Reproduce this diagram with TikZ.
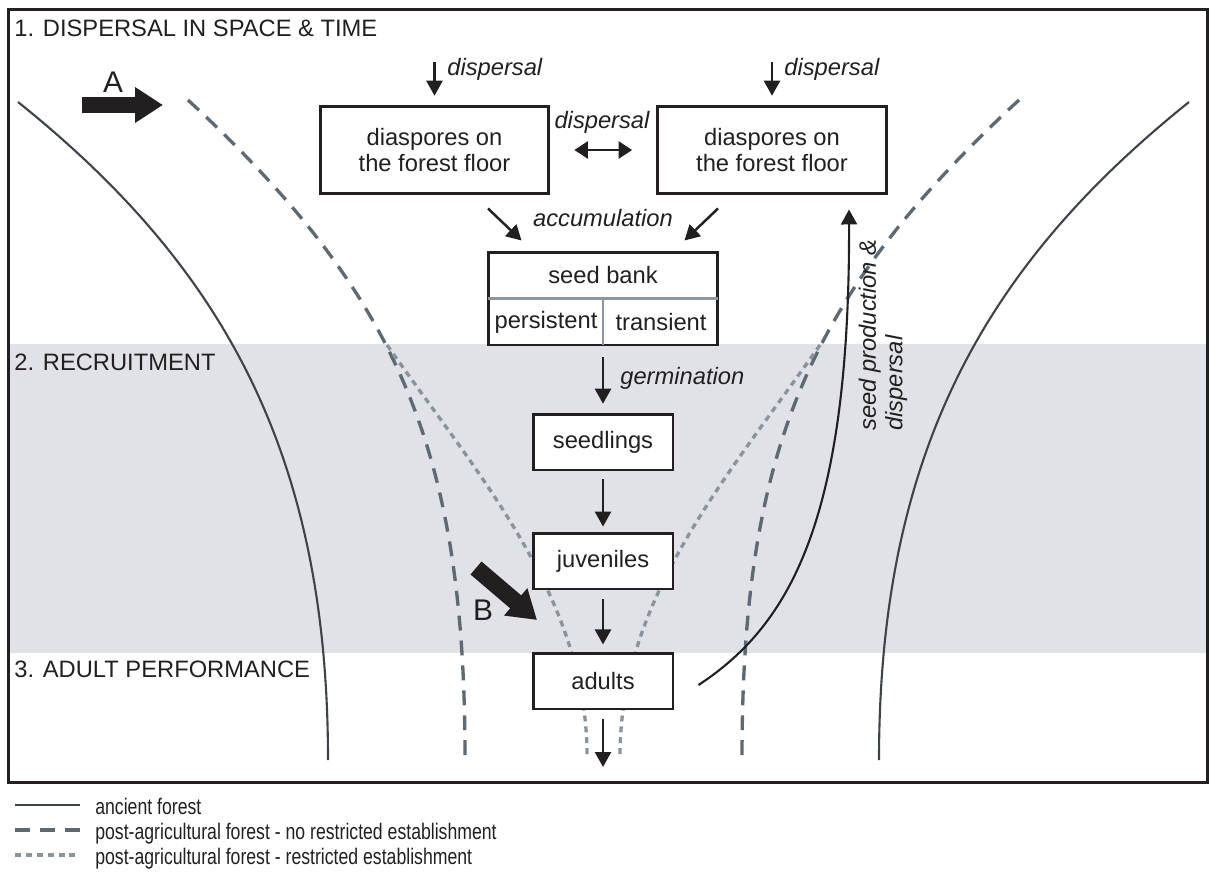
\documentclass[tikz,border=0pt]{standalone}
\usepackage{fontspec}
\setmainfont{Liberation Sans}
\newfontfamily\legendfont[FakeStretch=0.785]{Liberation Sans}
\usetikzlibrary{arrows.meta, calc}

\definecolor{ink}{HTML}{231F20}
\definecolor{band}{HTML}{E1E2E8}
\definecolor{ancient}{HTML}{3D4349}
\definecolor{postag}{HTML}{5E6A73}
\definecolor{restr}{HTML}{8A949E}
\definecolor{divider}{HTML}{8D97A1}

\newcommand{\boxfont}{\fontsize{13.5}{15}\selectfont}

\tikzset{
  stagebox/.style={draw=ink, line width=1.7pt, fill=white, text=ink, font=\boxfont,
    align=center, inner sep=0pt},
  smallbox/.style={stagebox, minimum width=2.8cm, minimum height=1.12cm},
  floorbox/.style={stagebox, minimum width=4.58cm, minimum height=1.76cm},
  flow/.style={draw=ink, line width=1.4pt, -{Triangle[length=0.3cm,width=0.32cm]}},
  flowboth/.style={draw=ink, line width=1.4pt,
    {Triangle[length=0.27cm,width=0.34cm]}-{Triangle[length=0.27cm,width=0.34cm]}},
  fat/.style={draw=ink, line width=0.34cm, -{Triangle[length=0.56cm,width=0.68cm]}},
  lbl/.style={font=\boxfont\itshape, text=ink, inner sep=0pt},
  stage/.style={font=\boxfont, text=ink, anchor=base west, inner sep=0pt},
  letter/.style={font=\fontsize{17}{19}\selectfont, text=ink, inner sep=0pt},
  legtext/.style={font=\legendfont\fontsize{12.8}{14}\selectfont, text=ink,
    anchor=base west, inner sep=0pt},
  ancientline/.style={draw=ancient, line width=1.2pt},
  noresline/.style={draw=postag, line width=1.9pt, dash pattern=on 8.5pt off 5.7pt},
  resline/.style={draw=restr, line width=1.9pt, dash pattern=on 3.4pt off 2.8pt},
}

\begin{document}
\begin{tikzpicture}[x=0.02cm, y=-0.02cm]
  \useasboundingbox (0,0) rectangle (1209,882);
  % recruitment band and frame
  \fill[band] (10,344) rectangle (1206,653);
  \draw[ink, line width=1.7pt] (8.5,9.5) rectangle (1207.5,782.3);

  % stage headings
  \node[stage] (st1) at (14,37) {1. DISPERSAL IN SPACE \& TIME};
  \node[stage] (st2) at (14,370) {2. RECRUITMENT};
  \node[stage] (st3) at (14,677) {3. ADULT PERFORMANCE};

  % forest edges, left side and its mirror image
  \foreach \sx/\dx in {1/0,-1/1207}{
    \begin{scope}[shift={(\dx,0)}, xscale=\sx]
      \draw[ancientline] (18,102) .. controls (220,264) and (328,450) .. (328,760);
      \draw[noresline] (188,100) .. controls (398,294) and (465,450) .. (465,758);
      \draw[resline] (387,345) .. controls (482,480) and (588,600) .. (587,758);
    \end{scope}
  }

  % boxes
  \node[floorbox] (floorL) at (434.5,150) {diaspores on\\the forest floor};
  \node[floorbox] (floorR) at (772,150) {diaspores on\\the forest floor};
  \node[stagebox, minimum width=4.6cm, minimum height=1.86cm] (bank) at (603,298.5) {};
  \draw[divider, line width=1.6pt, shorten <=0.8pt, shorten >=0.8pt] (bank.west) -- (bank.east);
  \draw[divider, line width=1.6pt, shorten >=0.8pt] (bank.center) -- (bank.south);
  \node[font=\boxfont, text=ink] (bankname) at (603,275) {seed bank};
  \node[font=\boxfont, text=ink] (persist) at (546,322) {persistent};
  \node[font=\boxfont, text=ink] (trans) at (661,322) {transient};
  \node[smallbox] (seedl) at (603,442) {seedlings};
  \node[smallbox] (juv) at (603,561) {juveniles};
  \node[smallbox] (adult) at (603,681) {adults};

  % dispersal into the floor
  \coordinate (inL) at (434.5,62);
  \coordinate (inR) at (772,62);
  \draw[flow, shorten >=5pt] (inL) -- (floorL);
  \draw[flow, shorten >=5pt] (inR) -- (floorR);
  \node[lbl, anchor=west] (dispL) at (447,69) {dispersal};
  \node[lbl, anchor=west] (dispR) at (784,69) {dispersal};
  \draw[flowboth, shorten <=13.6pt, shorten >=13.6pt] (floorL) -- (floorR);
  \node[lbl] (dispM) at (602,122) {dispersal};

  % accumulation
  \draw[flow] ($(floorL.south)+(53.5,13)$) -- ($(bank.north west)+(35,-10)$);
  \draw[flow] ($(floorR.south)+(-54,13)$) -- ($(bank.north east)+(-35,-10)$);
  \node[lbl] (accu) at (603,218) {accumulation};

  % life cycle
  \draw[flow, shorten <=6.2pt, shorten >=5pt] (bank) -- (seedl);
  \node[lbl, anchor=west] (germ) at (620,378) {germination};
  \draw[flow, shorten <=4.5pt, shorten >=2.8pt] (seedl) -- (juv);
  \draw[flow, shorten <=5pt, shorten >=4pt] (juv) -- (adult);
  \coordinate (out) at (603,767);
  \draw[flow, shorten <=5pt] (adult) -- (out);

  % seed production back to the floor
  \draw[flow, line width=1.2pt] ($(adult.east)+(24,4)$) .. controls (790,625) and (850,520) .. ($(floorR.south)+(77,14)$);
  \node[lbl, rotate=90, align=left] (prod) at (883,335) {seed production \&\\dispersal};

  % big arrows
  \coordinate (Atail) at (82,105);
  \coordinate (Ahead) at (163,105);
  \draw[fat] (Atail) -- (Ahead);
  \node[letter] (Alab) at (113,82) {A};
  \coordinate (Btail) at (476,568);
  \coordinate (Bhead) at (537,620);
  \draw[fat] (Btail) -- (Bhead);
  \node[letter] (Blab) at (483,610) {B};

  % legend
  \draw[ancientline] (15,805) -- (80,805);
  \draw[noresline] (15,830) -- (80,830);
  \draw[resline] (15,855) -- (80,855);
  \node[legtext] (leg1) at (95,814) {ancient forest};
  \node[legtext] (leg2) at (95,839) {post-agricultural forest - no restricted establishment};
  \node[legtext] (leg3) at (95,864) {post-agricultural forest - restricted establishment};
\end{tikzpicture}
\end{document}
